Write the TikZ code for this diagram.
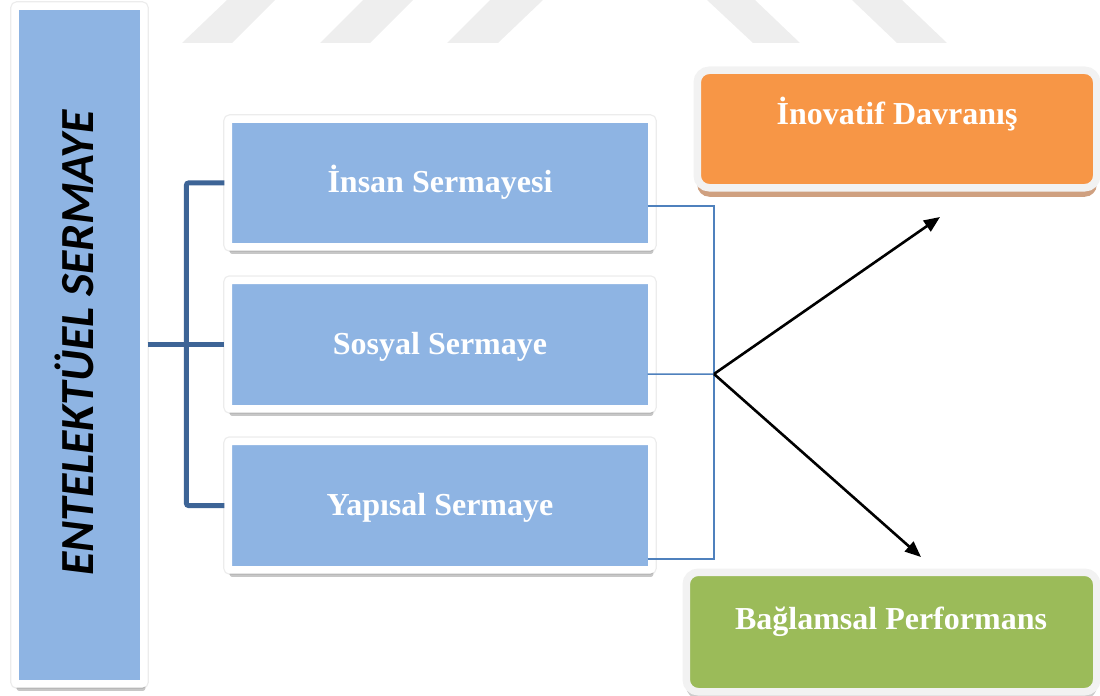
\documentclass[tikz,border=0pt]{standalone}
\usepackage{fontspec}
\setmainfont{Liberation Serif}
\newfontfamily\calib{Carlito}
\usetikzlibrary{arrows.meta,shadows,calc}
\definecolor{boxblue}{HTML}{8EB4E3}
\definecolor{darkline}{HTML}{3D6496}
\definecolor{thinblue}{HTML}{4F81BD}
\definecolor{orng}{HTML}{F79646}
\definecolor{grn}{HTML}{9BBB59}
\definecolor{framegray}{HTML}{F2F2F2}
\definecolor{wmgray}{HTML}{EEEEEE}
\definecolor{brownshadow}{HTML}{CFA080}
\definecolor{edgegray}{HTML}{ECECEC}
\begin{document}
\begin{tikzpicture}[x=1bp,y=-1bp,
  bluebox/.style={fill=boxblue, draw=white, line width=7.5bp, inner sep=0pt,
    rounded corners=2bp,
    preaction={draw=edgegray, line width=10bp},
    drop shadow={shadow xshift=1.5bp, shadow yshift=-7bp, fill=black, opacity=0.22}},
  roundbox/.style={draw=framegray, line width=7.5bp, inner sep=0pt, rounded corners=12bp},
  lbl/.style={anchor=base, text=white, font=\fontsize{32bp}{38bp}\selectfont\bfseries, inner sep=0pt},
  bracket/.style={draw=darkline, line width=5bp},
  conn/.style={draw=thinblue, line width=1.5bp},
  arr/.style={draw=black, line width=2.6bp, -{Triangle[length=16bp,width=13bp]}},
  wm/.style={fill=wmgray, draw=none}
]
\useasboundingbox (0,0) rectangle (1100,696);
% watermark
\fill[wm] (182,43) -- (232,43) -- (275,0) -- (227,0) -- cycle;
\fill[wm] (320,43) -- (370,43) -- (413,0) -- (363,0) -- cycle;
\fill[wm] (447,43) -- (498,43) -- (543,0) -- (490,0) -- cycle;
\fill[wm] (707,0) -- (755,0) -- (800,43) -- (753,43) -- cycle;
\fill[wm] (852,0) -- (902,0) -- (947,43) -- (897,43) -- cycle;

% left box
\node[bluebox, minimum width=128.5bp, minimum height=677.5bp] (ent) at (79.5,345) {};
\node[rotate=90, anchor=base, inner sep=0pt, font=\calib\fontsize{47.5bp}{56bp}\selectfont\bfseries\itshape] (entt) at (93,343) {ENTELEKTÜEL SERMAYE};

% middle boxes
\node[bluebox, minimum width=423.5bp, minimum height=127.5bp] (ins) at (440,183) {};
\node[bluebox, minimum width=423.5bp, minimum height=128.5bp] (soc) at (440,344.5) {};
\node[bluebox, minimum width=423.5bp, minimum height=128.5bp] (yap) at (440,505.5) {};
\node[lbl] (inst) at (440,192.5) {İnsan Sermayesi};
\node[lbl] (soct) at (440,354) {Sosyal Sermaye};
\node[lbl] (yapt) at (440,515.5) {Yapısal Sermaye};

% right boxes
\node[roundbox, fill=orng, minimum width=399.5bp, minimum height=117.5bp,
  drop shadow={shadow xshift=0bp, shadow yshift=-9bp, fill=brownshadow, opacity=1}] (ino) at (897,129) {};
\node[lbl] (inot) at (897,125) {İnovatif Davranış};
\node[roundbox, fill=grn, minimum width=410.5bp, minimum height=119.5bp,
  drop shadow={shadow xshift=0bp, shadow yshift=-7bp, fill=black, opacity=0.2}] (bag) at (891.5,632) {};
\node[lbl] (bagt) at (891,629) {Bağlamsal Performans};

% bracket
\draw[bracket] (ent.east |- soc.west) -- (soc.west);
\draw[bracket, rounded corners=2bp] (ins.west) -- ++(-38,0) |- (yap.west);

% connectors
\coordinate (j) at (714,374);
\coordinate (a1) at (940,217);
\coordinate (a2) at (921,557);
\draw[conn] ($(ins.east)+(-8,23)$) -| (j);
\draw[conn] ($(yap.east)+(-8,53.5)$) -| (j);
\draw[conn] ($(soc.east)+(-8,29.5)$) -- (j);
\draw[arr] (j) -- (a1);
\draw[arr] (j) -- (a2);
\end{tikzpicture}
\end{document}
